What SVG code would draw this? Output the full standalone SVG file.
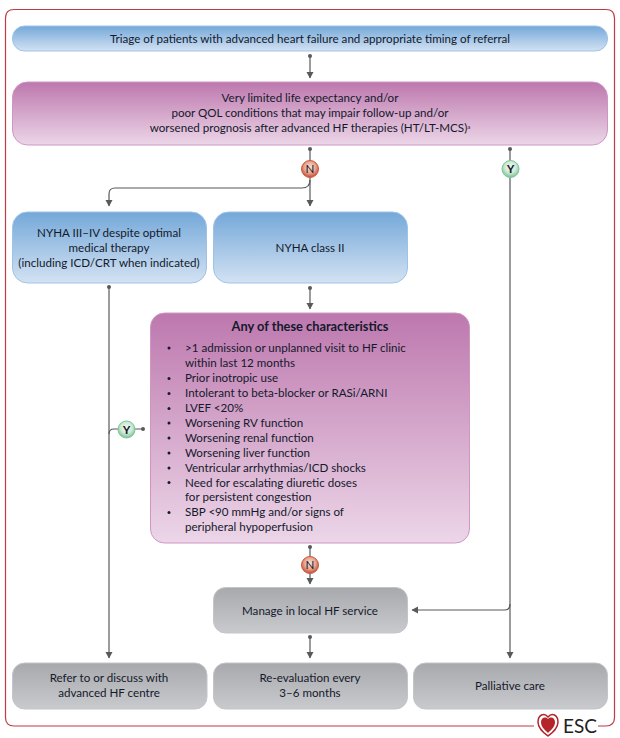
<svg xmlns="http://www.w3.org/2000/svg" width="620" height="738" viewBox="0 0 620 738">
<defs>
<linearGradient id="blue" x1="0" y1="0" x2="0" y2="1"><stop offset="0" stop-color="#74a8d9"/><stop offset="1" stop-color="#d3e2f3"/></linearGradient>
<linearGradient id="purple" x1="0" y1="0" x2="0" y2="1"><stop offset="0" stop-color="#bd78ae"/><stop offset="1" stop-color="#ecd6e8"/></linearGradient>
<linearGradient id="grey" x1="0" y1="0" x2="0" y2="1"><stop offset="0" stop-color="#a7a9ac"/><stop offset="1" stop-color="#c9cace"/></linearGradient>
<radialGradient id="red" cx="0.5" cy="0.4" r="0.6"><stop offset="0" stop-color="#f8e3dc"/><stop offset="0.55" stop-color="#e8a690"/><stop offset="1" stop-color="#c4492f"/></radialGradient>
<radialGradient id="green" cx="0.5" cy="0.4" r="0.6"><stop offset="0" stop-color="#f2f9f3"/><stop offset="0.55" stop-color="#cfe9d6"/><stop offset="1" stop-color="#74c193"/></radialGradient>
<marker id="arr" markerWidth="8" markerHeight="8" refX="6" refY="3.5" orient="auto" markerUnits="userSpaceOnUse"><path d="M0 0L6.500 3.500L0 7Z" fill="#58595b"/></marker>
<marker id="dot" markerWidth="6" markerHeight="6" refX="3" refY="3" orient="auto" markerUnits="userSpaceOnUse"><circle cx="3" cy="3" r="2" fill="#58595b"/></marker>
</defs>
<style>
text{font-family:"Lato","Open Sans",sans-serif;font-size:11.6px;fill:#14192b;text-anchor:middle}
.l{text-anchor:start}
.b{font-weight:700}
.h{font-weight:700;font-size:12.800px}
.y{font-weight:900;font-size:11px}
.c{fill:none;stroke:#58595b;stroke-width:1.200}
.a{marker-start:url(#dot);marker-end:url(#arr)}
.bl{fill:url(#blue);stroke:#9fc3e6;stroke-width:1}
.pu{fill:url(#purple);stroke:#cf96c4;stroke-width:1}
.gr{fill:url(#grey);stroke:#c4c5c8;stroke-width:1}
.rc{fill:url(#red);stroke:#cc5a40;stroke-width:1}
.gc{fill:url(#green);stroke:#7cc59b;stroke-width:1}
.n{fill:#14192b}
</style>
<path d="M534 726H14Q5.500 726 5.500 717.500V18Q5.500 9.500 14 9.500H606Q614.500 9.500 614.500 18V717.500Q614.500 726 606 726H598" fill="none" stroke="#be3a44" stroke-width="1.200"/>
<g id="connectors">
<path class="c a" d="M310 56V78"/>
<path class="c a" d="M310 149V206"/>
<path class="c" d="M310 180Q310 188 302 188H115Q109 188 109 194V206" marker-end="url(#arr)"/>
<path class="c a" d="M510 149V658"/>
<path class="c" d="M510 604Q510 610 505 610H412" marker-end="url(#arr)"/>
<path class="c a" d="M109 287V658"/>
<path class="c" d="M109 434Q109 429 114 429H143" marker-end="url(#dot)"/>
<path class="c a" d="M310 288V309"/>
<path class="c a" d="M310 547V584"/>
<path class="c a" d="M310 637V658"/>
</g>
<g id="triage"><rect class="bl" x="12.500" y="26" width="595" height="25" rx="12"/><text x="310" y="42.500">Triage of patients with advanced heart failure and appropriate timing of referral</text></g>
<g id="limited"><rect class="pu" x="12.500" y="82" width="595" height="63" rx="15"/><text x="310" y="102">Very limited life expectancy and/or</text><text x="310" y="117">poor QOL conditions that may impair follow-up and/or</text><text x="310" y="132">worsened prognosis after advanced HF therapies (HT/LT-MCS)<tspan font-size="6" dy="-3">a</tspan></text></g>
<g id="n1"><circle class="rc" cx="310" cy="169" r="8.500"/><text x="310" y="173">N</text></g>
<g id="y1"><circle class="gc" cx="510.500" cy="169" r="8.500"/><text class="y" x="510.500" y="173">Y</text></g>
<g id="nyha34"><rect class="bl" x="12.500" y="212" width="194" height="71" rx="15"/><text x="109" y="237">NYHA III–IV despite optimal</text><text x="109" y="252">medical therapy</text><text x="109" y="267">(including ICD/CRT when indicated)</text></g>
<g id="nyha2"><rect class="bl" x="213.500" y="212" width="194" height="71" rx="15"/><text x="310" y="252">NYHA class II</text></g>
<g id="y2"><circle class="gc" cx="126.500" cy="429.500" r="8.500"/><text class="y" x="126.500" y="433.500">Y</text></g>
<g id="chars"><rect class="pu" x="150.500" y="313" width="319" height="230" rx="14"/>
<text class="h" x="310" y="331">Any of these characteristics</text>
<g class="n"><circle cx="169" cy="348" r="1.500"/><circle cx="169" cy="378.500" r="1.500"/><circle cx="169" cy="393.500" r="1.500"/><circle cx="169" cy="408.500" r="1.500"/><circle cx="169" cy="423" r="1.500"/><circle cx="169" cy="438" r="1.500"/><circle cx="169" cy="453" r="1.500"/><circle cx="169" cy="468" r="1.500"/><circle cx="169" cy="482.500" r="1.500"/><circle cx="169" cy="512.500" r="1.500"/></g>
<text class="l" x="185" y="352">&gt;1 admission or unplanned visit to HF clinic</text>
<text class="l" x="185" y="367">within last 12 months</text>
<text class="l" x="185" y="382">Prior inotropic use</text>
<text class="l" x="185" y="397">Intolerant to beta-blocker or RASi/ARNI</text>
<text class="l" x="185" y="412">LVEF &lt;20%</text>
<text class="l" x="185" y="427">Worsening RV function</text>
<text class="l" x="185" y="442">Worsening renal function</text>
<text class="l" x="185" y="457">Worsening liver function</text>
<text class="l" x="185" y="472">Ventricular arrhythmias/ICD shocks</text>
<text class="l" x="185" y="487">Need for escalating diuretic doses</text>
<text class="l" x="185" y="501">for persistent congestion</text>
<text class="l" x="185" y="516">SBP &lt;90 mmHg and/or signs of</text>
<text class="l" x="185" y="531">peripheral hypoperfusion</text></g>
<g id="n2"><circle class="rc" cx="310" cy="565" r="8.500"/><text x="310" y="569">N</text></g>
<g id="manage"><rect class="gr" x="213.500" y="587.500" width="194" height="45.500" rx="12"/><text x="310" y="614.500">Manage in local HF service</text></g>
<g id="refer"><rect class="gr" x="12.500" y="663" width="194.500" height="46" rx="12"/><text x="109" y="682">Refer to or discuss with</text><text x="109" y="697">advanced HF centre</text></g>
<g id="reeval"><rect class="gr" x="213.500" y="663" width="194" height="46" rx="12"/><text x="310" y="682">Re-evaluation every</text><text x="310" y="697">3–6 months</text></g>
<g id="palliative"><rect class="gr" x="413.500" y="663" width="194" height="46" rx="12"/><text x="510" y="690">Palliative care</text></g>
<g id="logo"><path d="M548 717C544 712 538 715 538 722C538 729 544 733 548 736C552 733 558 729 558 722C558 715 552 712 548 717Z" fill="#fff" stroke="#b3242b" stroke-width="1.500"/><path d="M548 719C545 716 541 718 541 722C541 727 545 730 548 733C551 730 555 727 555 722C555 718 551 716 548 719Z" fill="#b3242b"/><text x="563" y="733" style="font-size:19px;text-anchor:start;fill:#222">ESC</text></g>
</svg>
